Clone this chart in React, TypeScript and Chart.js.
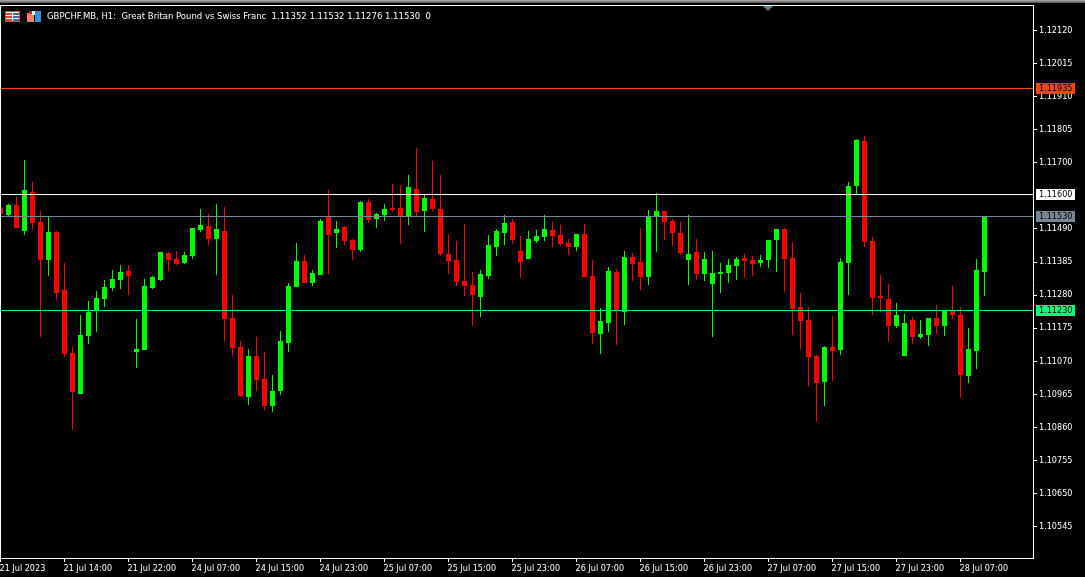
import React, { useEffect, useRef } from "react";
import { Chart, registerables } from "chart.js";

Chart.register(...registerables);

const symbolTitle = "GBPCHF.MB, H1:  Great Britan Pound vs Swiss Franc  1.11352 1.11532 1.11276 1.11530  0";

const opens = [
  1.11557, 1.11534, 1.11566, 1.11483, 1.11607, 1.11512, 1.11391, 1.1148, 1.11296, 1.11095,
  1.10967, 1.1115, 1.11232, 1.11267, 1.11302, 1.11328, 1.11356, 1.11099, 1.11105, 1.11302,
  1.11328, 1.11413, 1.11394, 1.11381, 1.11404, 1.11487, 1.11499, 1.11458, 1.11483, 1.11207,
  1.11115, 1.10956, 1.11086, 1.11013, 1.10927, 1.10975, 1.11127, 1.11305, 1.11388, 1.11318,
  1.11343, 1.11531, 1.11477, 1.11496, 1.11455, 1.11423, 1.11576, 1.11522, 1.11534, 1.11557,
  1.11557, 1.11528, 1.11617, 1.11547, 1.11585, 1.11553, 1.1141, 1.11391, 1.11324, 1.11312,
  1.11274, 1.1134, 1.11433, 1.11477, 1.11512, 1.1142, 1.11394, 1.11452, 1.11464, 1.11487,
  1.11471, 1.11445, 1.11433, 1.11474, 1.1134, 1.11156, 1.11191, 1.11353, 1.11226, 1.11401,
  1.11385, 1.11337, 1.11528, 1.11547, 1.11515, 1.11477, 1.11391, 1.11417, 1.11347, 1.11315,
  1.11347, 1.1135, 1.11372, 1.11398, 1.11391, 1.11382, 1.11391, 1.11455, 1.1149, 1.11398,
  1.11242, 1.112, 1.11086, 1.11003, 1.11115, 1.11105, 1.11382, 1.11627, 1.1177, 1.11452,
  1.11277, 1.11267, 1.11181, 1.11086, 1.112, 1.11146, 1.11153, 1.11207, 1.11181, 1.11229,
  1.11216, 1.11022, 1.11102, 1.11352,
];

const highs = [
  1.11557, 1.11569, 1.11592, 1.11709, 1.11639, 1.11547, 1.11528, 1.11483, 1.11381, 1.11115,
  1.11216, 1.11261, 1.11293, 1.11328, 1.11359, 1.11375, 1.11375, 1.11204, 1.11331, 1.1134,
  1.11417, 1.11417, 1.1142, 1.11417, 1.11493, 1.11553, 1.11537, 1.11569, 1.1156, 1.1128,
  1.11134, 1.11108, 1.11146, 1.11099, 1.11025, 1.11165, 1.11318, 1.11445, 1.11407, 1.11359,
  1.11522, 1.11614, 1.11515, 1.11499, 1.11458, 1.11579, 1.11585, 1.11541, 1.11569, 1.11633,
  1.1163, 1.11661, 1.11747, 1.11598, 1.11706, 1.11661, 1.11474, 1.11452, 1.11506, 1.11353,
  1.11359, 1.11471, 1.1149, 1.11534, 1.11522, 1.11467, 1.11483, 1.11487, 1.11534, 1.11512,
  1.11502, 1.11458, 1.11474, 1.11506, 1.11391, 1.11239, 1.11369, 1.11363, 1.1142, 1.11413,
  1.11493, 1.1155, 1.11604, 1.11547, 1.11522, 1.11512, 1.11534, 1.11458, 1.11417, 1.1142,
  1.11382, 1.11394, 1.11401, 1.1141, 1.11404, 1.11407, 1.11455, 1.1149, 1.11493, 1.11448,
  1.11286, 1.11242, 1.11089, 1.11118, 1.11213, 1.11398, 1.11639, 1.11776, 1.11786, 1.11464,
  1.11343, 1.11315, 1.11254, 1.11219, 1.1121, 1.112, 1.11207, 1.11248, 1.11229, 1.11308,
  1.11242, 1.11175, 1.11394, 1.11532,
];

const lows = [
  1.11537, 1.11529, 1.11493, 1.11471, 1.1149, 1.11146, 1.1134, 1.11264, 1.11083, 1.10851,
  1.10965, 1.11124, 1.11162, 1.11242, 1.11293, 1.11299, 1.1128, 1.11048, 1.11105, 1.11299,
  1.11324, 1.11356, 1.11375, 1.11378, 1.11394, 1.1148, 1.11439, 1.11343, 1.11134, 1.11086,
  1.10956, 1.1093, 1.10975, 1.10914, 1.10908, 1.10962, 1.11099, 1.11305, 1.11318, 1.11308,
  1.11343, 1.11347, 1.11429, 1.11439, 1.11391, 1.11417, 1.11509, 1.11493, 1.11515, 1.11544,
  1.11442, 1.11502, 1.11531, 1.1148, 1.11547, 1.11404, 1.11347, 1.11308, 1.11277, 1.11181,
  1.1121, 1.11331, 1.11404, 1.11439, 1.11442, 1.11334, 1.11394, 1.11445, 1.11452, 1.11433,
  1.11436, 1.11407, 1.1142, 1.11337, 1.11124, 1.11092, 1.11162, 1.11121, 1.11184, 1.11324,
  1.11296, 1.11312, 1.11417, 1.11455, 1.11436, 1.11407, 1.11312, 1.11328, 1.11324, 1.11146,
  1.11286, 1.11318, 1.11328, 1.11334, 1.1134, 1.11369, 1.11366, 1.11353, 1.11289, 1.11153,
  1.11108, 1.1099, 1.10876, 1.10927, 1.11006, 1.11089, 1.1128, 1.11601, 1.11433, 1.11216,
  1.11226, 1.1113, 1.11175, 1.11086, 1.11124, 1.1114, 1.11118, 1.11156, 1.1115, 1.11204,
  1.10952, 1.11, 1.11045, 1.11276,
];

const closes = [
  1.11537, 1.11566, 1.11493, 1.11614, 1.11509, 1.11391, 1.1148, 1.11286, 1.11092, 1.10971,
  1.11153, 1.11226, 1.1127, 1.11305, 1.11331, 1.11353, 1.11342, 1.11108, 1.11308, 1.11337,
  1.11417, 1.11391, 1.11378, 1.11407, 1.11493, 1.11502, 1.11458, 1.1149, 1.11204, 1.11111,
  1.10959, 1.11086, 1.1101, 1.10927, 1.10975, 1.11134, 1.11308, 1.11388, 1.11318, 1.1135,
  1.11515, 1.11471, 1.1149, 1.11452, 1.11423, 1.11576, 1.11518, 1.11537, 1.11553, 1.1155,
  1.11528, 1.11623, 1.11544, 1.11588, 1.11553, 1.1141, 1.11388, 1.11321, 1.11308, 1.1128,
  1.11347, 1.11439, 1.11483, 1.11509, 1.11455, 1.11385, 1.11458, 1.11467, 1.1149, 1.11467,
  1.11442, 1.11433, 1.11474, 1.11337, 1.11159, 1.11197, 1.11356, 1.11232, 1.11401, 1.11378,
  1.11337, 1.11528, 1.11547, 1.11512, 1.11477, 1.11413, 1.1141, 1.11347, 1.11394, 1.1135,
  1.11353, 1.11375, 1.11394, 1.11388, 1.11378, 1.11391, 1.11455, 1.1149, 1.11394, 1.11235,
  1.11197, 1.11083, 1.11, 1.11115, 1.11102, 1.11385, 1.11627, 1.11773, 1.11448, 1.1127,
  1.1127, 1.11181, 1.11216, 1.11191, 1.11146, 1.11156, 1.11207, 1.11181, 1.11229, 1.11216,
  1.11025, 1.11108, 1.11359, 1.1153,
];

const priceTicks = [
  1.1212, 1.12015, 1.1191, 1.11805, 1.117, 1.1149, 1.11385, 1.1128, 1.11175,
  1.1107, 1.10965, 1.1086, 1.10755, 1.1065, 1.10545,
];

const timeTickBars = [0, 8, 16, 24, 32, 40, 48, 56, 64, 72, 80, 88, 96, 104, 112, 120];
const timeTickLabels = [
  "21 Jul 2023", "21 Jul 14:00", "21 Jul 22:00", "24 Jul 07:00", "24 Jul 15:00", "24 Jul 23:00",
  "25 Jul 07:00", "25 Jul 15:00", "25 Jul 23:00", "26 Jul 07:00", "26 Jul 15:00", "26 Jul 23:00",
  "27 Jul 07:00", "27 Jul 15:00", "27 Jul 23:00", "28 Jul 07:00",
];

const levelPrices = [1.11935, 1.116, 1.1153, 1.1123];
const levelColors = ["#FF4500", "#FFFFFF", "#778899", "#00FF7F"];

const UP = "#00FF00";
const DOWN = "#FF0000";
const FONT = '"DejaVu Sans Condensed", "Liberation Sans", sans-serif';

const X_MIN = 0.0625;
const X_MAX = 129.0625;
const Y_MIN = 1.10445;
const Y_MAX = 1.12198;

const snapPlugin = {
  id: "snap",
  beforeDatasetsDraw(chart: any) {
    chart.data.datasets.forEach((ds: any, i: number) => {
      const meta = chart.getDatasetMeta(i);
      if (ds.type === "bar") {
        meta.data.forEach((el: any) => {
          el.y = Math.round(el.y);
          el.base = Math.round(el.base);
          if (el.base === el.y) el.base = el.y + 1;
        });
      } else {
        meta.data.forEach((el: any) => {
          el.y = Math.floor(el.y) + 0.5;
        });
      }
    });
  },
};

const framePlugin = {
  id: "frame",
  beforeDraw(chart: any) {
    const { ctx, width, height } = chart;
    ctx.save();
    ctx.fillStyle = "#000000";
    ctx.fillRect(0, 0, width, height);
    ctx.restore();
  },
  afterDraw(chart: any) {
    const { ctx } = chart;
    const y = chart.scales.y;
    ctx.save();
    // window edge and chart frame
    ctx.fillStyle = "#a0a0a0";
    ctx.fillRect(0, 0, 1085, 1);
    ctx.fillStyle = "#808080";
    ctx.fillRect(0, 1, 1085, 1);
    ctx.fillStyle = "#606060";
    ctx.fillRect(0, 2, 1085, 1);
    ctx.fillStyle = "#FFFFFF";
    ctx.fillRect(0, 5, 1034, 1);
    ctx.fillRect(0, 5, 1, 554);
    // scale-fix marker
    ctx.fillStyle = "#5F7F96";
    ctx.beginPath();
    ctx.moveTo(763, 6);
    ctx.lineTo(773, 6);
    ctx.lineTo(768, 11);
    ctx.closePath();
    ctx.fill();
    // header icons
    ctx.fillStyle = "#E04030";
    ctx.fillRect(5, 11, 15, 11);
    ctx.fillStyle = "#FFFFFF";
    ctx.fillRect(6, 12, 13, 9);
    ctx.fillStyle = "#E04030";
    ctx.fillRect(6, 13, 6, 2);
    ctx.fillRect(6, 16, 6, 2);
    ctx.fillRect(6, 19, 6, 2);
    ctx.fillStyle = "#2A70C8";
    ctx.fillRect(13, 13, 6, 2);
    ctx.fillRect(13, 16, 6, 2);
    ctx.fillRect(13, 19, 6, 2);
    ctx.fillStyle = "#F08070";
    ctx.fillRect(27, 13, 7, 9);
    ctx.fillStyle = "#B03020";
    ctx.fillRect(29, 11, 3, 3);
    ctx.fillStyle = "#FFFFFF";
    ctx.fillRect(32, 11, 3, 4);
    ctx.fillStyle = "#3A90D8";
    ctx.fillRect(35, 11, 6, 11);
    // title
    ctx.font = `9.45px ${FONT}`;
    ctx.textBaseline = "middle";
    ctx.textAlign = "left";
    ctx.fillStyle = "#FFFFFF";
    ctx.fillText(symbolTitle, 47, 16.5);
    // price tags
    levelPrices.forEach((p, i) => {
      const py = Math.floor(y.getPixelForValue(p));
      ctx.fillStyle = levelColors[i];
      ctx.fillRect(1036, py - 5, 39, 11);
      ctx.fillStyle = "#000000";
      ctx.font = `9px ${FONT}`;
      ctx.fillText(p.toFixed(5), 1039, py + 0.5);
    });
    ctx.restore();
  },
};

export default function App() {
  const ref = useRef<HTMLCanvasElement>(null);
  useEffect(() => {
    const bars = opens.map((_, i) => i);
    const colors = bars.map((i) => (closes[i] >= opens[i] ? UP : DOWN));
    const chart = new Chart(ref.current as HTMLCanvasElement, {
      type: "bar",
      data: {
        datasets: [
          ...levelPrices.map((p, i) => ({
            type: "line" as const,
            label: p.toFixed(5),
            data: [
              { x: X_MIN, y: p },
              { x: X_MAX, y: p },
            ],
            borderColor: levelColors[i],
            borderWidth: 1,
            pointRadius: 0,
            order: 0,
          })),
          {
            type: "bar" as const,
            label: "body",
            data: bars.map((i) => ({ x: i, y: [opens[i], closes[i]] })),
            backgroundColor: colors,
            borderWidth: 0,
            barThickness: 5,
            grouped: false,
            inflateAmount: 0,
            order: 1,
          },
          {
            type: "bar" as const,
            label: "wick",
            data: bars.map((i) => ({ x: i, y: [lows[i], highs[i]] })),
            backgroundColor: colors,
            borderWidth: 0,
            barThickness: 1,
            grouped: false,
            inflateAmount: 0,
            order: 2,
          },
        ],
      } as any,
      options: {
        responsive: false,
        animation: false,
        devicePixelRatio: 1,
        events: [],
        layout: { padding: { left: 1, top: 6, right: 0, bottom: 0 } },
        plugins: { legend: { display: false }, title: { display: false }, tooltip: { enabled: false } },
        scales: {
          x: {
            type: "linear",
            offset: false,
            min: X_MIN,
            max: X_MAX,
            bounds: "data",
            afterFit: (s: any) => {
              s.height = 19;
              s.paddingLeft = 0;
              s.paddingRight = 0;
            },
            afterBuildTicks: (s: any) => {
              s.ticks = timeTickBars.map((value) => ({ value }));
            },
            grid: { offset: false, drawOnChartArea: false, color: "#FFFFFF", tickLength: 4, tickWidth: 1 },
            border: { color: "#FFFFFF", width: 1 },
            ticks: {
              autoSkip: false,
              maxRotation: 0,
              minRotation: 0,
              align: "start",
              padding: 1,
              labelOffset: -1,
              color: "#FFFFFF",
              font: { family: FONT, size: 9 },
              callback: (v: any) => timeTickLabels[timeTickBars.indexOf(v)] ?? "",
            },
          },
          y: {
            type: "linear",
            position: "right",
            min: Y_MIN,
            max: Y_MAX,
            bounds: "data",
            afterFit: (s: any) => {
              s.width = 52;
              s.paddingTop = 0;
              s.paddingBottom = 0;
            },
            afterBuildTicks: (s: any) => {
              s.ticks = priceTicks.map((value) => ({ value }));
            },
            grid: { drawOnChartArea: false, color: "#FFFFFF", tickLength: 4, tickWidth: 1 },
            border: { color: "#FFFFFF", width: 1 },
            ticks: {
              autoSkip: false,
              padding: 2,
              color: "#FFFFFF",
              font: { family: FONT, size: 9 },
              callback: (v: any) => Number(v).toFixed(5),
            },
          },
        },
      } as any,
      plugins: [snapPlugin, framePlugin],
    });
    return () => chart.destroy();
  }, []);
  return (
    <div style={{ position: "fixed", left: 0, top: 0, width: 1085, height: 577, background: "#000" }}>
      <canvas ref={ref} width={1085} height={577} style={{ display: "block" }} />
    </div>
  );
}
